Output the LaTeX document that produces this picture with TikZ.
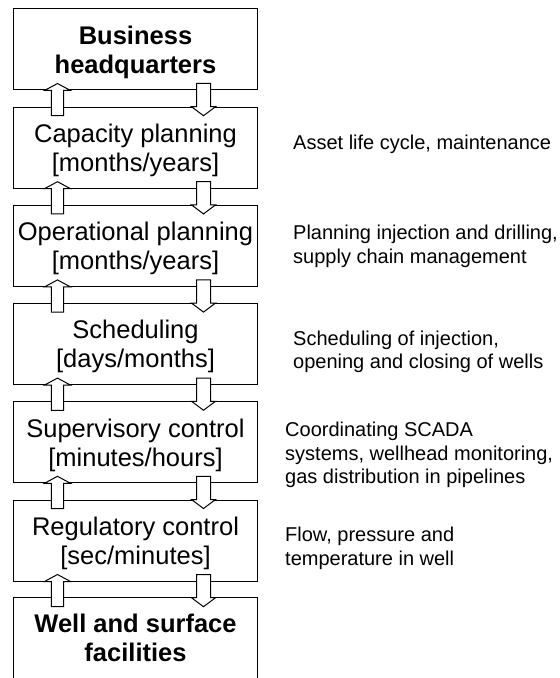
\documentclass[tikz,border=0pt]{standalone}
\usepackage{fontspec}
\setmainfont{Liberation Sans}

\tikzset{
  layerbox/.style={draw, line width=1bp, minimum width=243bp, minimum height=81bp,
    inner sep=0pt, align=center, text depth=0pt, font=\fontsize{25.5bp}{29bp}\selectfont},
  notetext/.style={anchor=base west, inner sep=0pt, align=left,
    font=\fontsize{20bp}{23.3bp}\selectfont},
  blockarrow/.style={draw, fill=white, line width=1bp, line join=miter},
}

% up and down block arrows between two stacked layers
\newcommand{\levelarrows}[2]{%
  \draw[blockarrow] ([xshift=38bp,yshift=-9bp]#2.north west) -- ([xshift=38bp]#1.south west)
    -- ++(-7,0) -- ++(13,-7) -- ++(13,7) -- ++(-7,0)
    -- ([xshift=50bp,yshift=-9bp]#2.north west) -- cycle;
  \draw[blockarrow] ([xshift=183bp,yshift=7bp]#1.south west) -- ([xshift=183bp]#2.north west)
    -- ++(-5,0) -- ++(12,9) -- ++(12,-9) -- ++(-5,0)
    -- ([xshift=197bp,yshift=7bp]#1.south west) -- cycle;
}

\begin{document}
\begin{tikzpicture}[x=1bp,y=-1bp]
  \useasboundingbox (0,0) rectangle (560,678);
%%
  % Node: Business headquarters
  \node[layerbox] (hq) at (135.5,49.5) {\bfseries Business\\\bfseries headquarters};
  % Node: Capacity planning
  \node[layerbox] (capacity) at (135.5,147.7) {Capacity planning\\{}[months/years]};
  % Node: Operational planning
  \node[layerbox] (operational) at (135.5,245.9) {Operational planning\\{}[months/years]};
  % Node: Scheduling
  \node[layerbox] (scheduling) at (135.5,344.1) {Scheduling\\{}[days/months]};
  % Node: Supervisory control
  \node[layerbox] (supervisory) at (135.5,442.3) {Supervisory control\\{}[minutes/hours]};
  % Node: Regulatory control
  \node[layerbox] (regulatory) at (135.5,540.5) {Regulatory control\\{}[sec/minutes]};
  % Node: Well and surface facilities (open at the bottom)
  \node[layerbox, draw=none, minimum height=80bp] (well) at (135.5,638.2)
    {\bfseries Well and surface\\\bfseries facilities};
  \draw[line width=1bp] (well.south west) |- (well.north east) -- (well.south east);
%
  % Edge: hq <-> capacity
  \levelarrows{hq}{capacity}
  % Edge: capacity <-> operational
  \levelarrows{capacity}{operational}
  % Edge: operational <-> scheduling
  \levelarrows{operational}{scheduling}
  % Edge: scheduling <-> supervisory
  \levelarrows{scheduling}{supervisory}
  % Edge: supervisory <-> regulatory
  \levelarrows{supervisory}{regulatory}
  % Edge: regulatory <-> well
  \levelarrows{regulatory}{well}
%
  % Notes (anchored at the baseline of their last line)
  \node[notetext] (capnote) at (293,149) {Asset life cycle, maintenance};
  \node[notetext] (opnote) at (293,263) {Planning injection and drilling,\\supply chain management};
  \node[notetext] (schednote) at (293,368.3) {Scheduling of injection,\\opening and closing of wells};
  \node[notetext] (supnote) at (285,483.3) {Coordinating SCADA\\systems, wellhead monitoring,\\gas distribution in pipelines};
  \node[notetext] (regnote) at (285,565) {Flow, pressure and\\temperature in well};
%
\end{tikzpicture}
\end{document}
